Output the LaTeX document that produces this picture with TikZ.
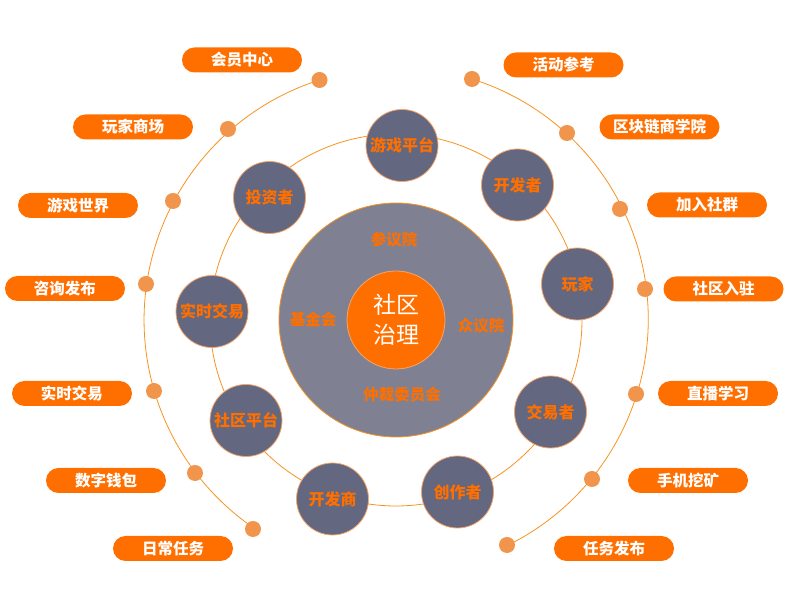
\documentclass[tikz,border=0pt]{standalone}
\usepackage{fontspec}
\newfontfamily\cjk{Noto Sans CJK SC}
\usepackage{xcolor}
\usepackage{tikz}
\usetikzlibrary{positioning}

\definecolor{hot}{HTML}{FF6F00}
\definecolor{dotc}{HTML}{F0954B}
\definecolor{wire}{HTML}{F7931E}
\definecolor{slate}{HTML}{7F8193}
\definecolor{ink}{HTML}{636780}
\definecolor{rim}{HTML}{F5A46A}

\begin{document}
\begin{tikzpicture}[x=1pt, y=1pt,
  pill/.style={fill=hot, rounded corners=12.5pt, minimum width=120pt, minimum height=25pt, inner sep=0pt, text=white, font=\cjk\bfseries\fontsize{15.5}{18}\selectfont},
  dot/.style={circle, fill=dotc, minimum size=16pt, inner sep=0pt},
  member/.style={circle, fill=ink, draw=rim, line width=0.8pt, minimum size=72pt, inner sep=0pt, text=hot, font=\cjk\bfseries\fontsize{16}{18}\selectfont},
  house/.style={text=hot, font=\cjk\bfseries\fontsize{15.5}{18}\selectfont},
  ring/.style={draw=wire, line width=0.8pt}]
\useasboundingbox (0,0) rectangle (788,597);
% governance core
\coordinate (hub) at (396,277);
\draw[ring] (hub) circle[radius=186];
\node[circle, fill=slate, draw=wire, line width=0.8pt, minimum size=234pt, inner sep=0pt] (senate) at (hub) {};
\node[circle, fill=hot, draw=rim, line width=0.8pt, minimum size=98pt, inner sep=0pt, text=white, align=center, font=\cjk\fontsize{23}{30}\selectfont] (core) at (hub) {社区\\治理};
\node[house] (upper) at (394,357) {参议院};
\node[house] (fund) at (313,277) {基金会};
\node[house] (lower) at (481,271) {众议院};
\node[house] (court) at (402,202) {仲裁委员会};
% members on the orbit
\node[member] (m1) at (402,451.5) {游戏平台};
\node[member] (m2) at (517.5,412) {开发者};
\node[member] (m3) at (577.5,313) {玩家};
\node[member] (m4) at (550.5,185) {交易者};
\node[member] (m5) at (457.5,105) {创作者};
\node[member] (m6) at (332.5,98) {开发商};
\node[member] (m7) at (246,176.5) {社区平台};
\node[member] (m8) at (212,285.5) {实时交易};
\node[member] (m9) at (269.5,399.5) {投资者};
% outer arcs
\coordinate (l1) at (319.5,517);
\coordinate (l2) at (228,468);
\coordinate (l3) at (173,396);
\coordinate (l4) at (146,313);
\coordinate (l5) at (154,206);
\coordinate (l6) at (195,124);
\coordinate (l7) at (253,68);
\coordinate (r1) at (472,518);
\coordinate (r2) at (567,464);
\coordinate (r3) at (620,388);
\coordinate (r4) at (645,308);
\coordinate (r5) at (636,203);
\coordinate (r6) at (592,118);
\coordinate (r7) at (507,52);
\draw[ring] (l1) arc[start angle=107.7, end angle=235.6, radius=252];
\draw[ring] (r1) arc[start angle=72.5, end angle=-63.7, radius=252];
\foreach \d in {l1,l2,l3,l4,l5,l6,l7,r1,r2,r3,r4,r5,r6,r7}
  \node[dot] (d\d) at (\d) {};
% labels
\node[pill] (p1) at (242,537) {会员中心};
\node[pill] (p2) at (133,470) {玩家商场};
\node[pill] (p3) at (78,391.5) {游戏世界};
\node[pill] (p4) at (65,308.5) {咨询发布};
\node[pill] (p5) at (72,203.5) {实时交易};
\node[pill] (p6) at (106,116.5) {数字钱包};
\node[pill] (p7) at (173,48.5) {日常任务};
\node[pill] (q1) at (563.5,532) {活动参考};
\node[pill] (q2) at (659.5,470) {区块链商学院};
\node[pill] (q3) at (707,392) {加入社群};
\node[pill] (q4) at (723.5,308) {社区入驻};
\node[pill] (q5) at (718,203.5) {直播学习};
\node[pill] (q6) at (688,116.5) {手机挖矿};
\node[pill] (q7) at (614,48.5) {任务发布};
\end{tikzpicture}
\end{document}
